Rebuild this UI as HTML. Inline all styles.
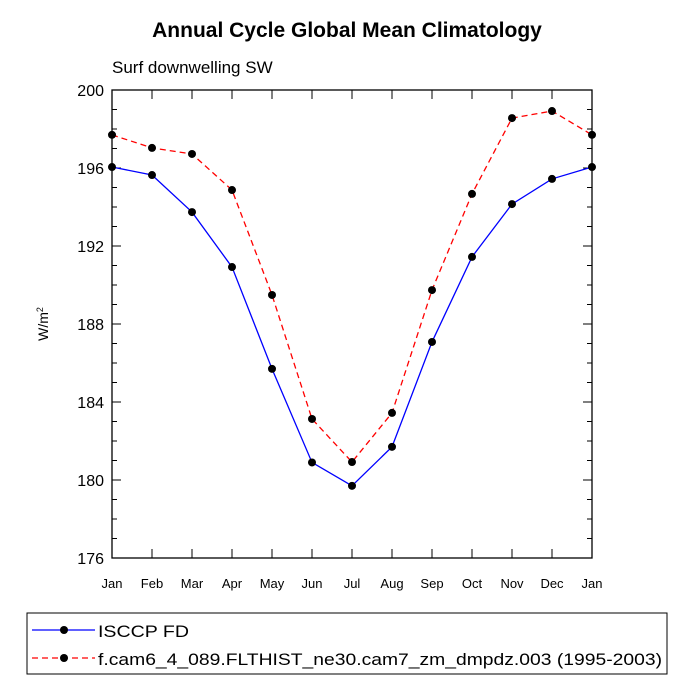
<!DOCTYPE html>
<html><head><meta charset="utf-8"><style>
body{margin:0;background:#fff;}
svg text{font-family:"Liberation Sans",Arial,sans-serif;}
</style></head><body>
<svg width="694" height="694" viewBox="0 0 694 694">
<text x="347" y="37" text-anchor="middle" font-size="21" font-weight="bold">Annual Cycle Global Mean Climatology</text>
<text x="112" y="73" font-size="17">Surf downwelling SW</text>
<text transform="translate(48,324) rotate(-90)" text-anchor="middle" font-size="14">W/m<tspan dy="-5" font-size="9">2</tspan></text>
<g id="axes"></g>
<g id="series"></g>
<rect x="27" y="613" width="640" height="61" fill="none" stroke="#000" stroke-width="1"/>
<g>
<line x1="32" y1="630" x2="95" y2="630" stroke="#0000ff" stroke-width="1.3"/>
<circle cx="64" cy="630" r="4" fill="#000"/>
<text x="98" y="637" font-size="17" textLength="91" lengthAdjust="spacingAndGlyphs">ISCCP FD</text></g>
<g>
<line x1="32" y1="658" x2="95" y2="658" stroke="#ff0000" stroke-width="1.3" stroke-dasharray="6,4"/>
<circle cx="64" cy="658" r="4" fill="#000"/>
<text x="98" y="665" font-size="17" textLength="564" lengthAdjust="spacingAndGlyphs">f.cam6_4_089.FLTHIST_ne30.cam7_zm_dmpdz.003 (1995-2003)</text></g>
</svg>
<script>
const months=["Jan","Feb","Mar","Apr","May","Jun","Jul","Aug","Sep","Oct","Nov","Dec","Jan"];
const obsValues=[196.05,195.64,193.74,190.92,185.7,180.9,179.7,181.7,187.08,191.44,194.15,195.44,196.05];
const modelValues=[197.7,197.03,196.72,194.87,189.49,183.13,180.92,183.44,189.74,194.67,198.56,198.92,197.7];
const yTicks=[176,180,184,188,192,196,200];
const X0=112,X1=592,Y0=558,Y1=90,YMIN=176,YMAX=200;
const xs=i=>X0+(X1-X0)*i/(months.length-1);
const ys=v=>Y0-(v-YMIN)/(YMAX-YMIN)*(Y0-Y1);
const NS="http://www.w3.org/2000/svg";
function mk(t,a,p){const e=document.createElementNS(NS,t);for(const k in a)e.setAttribute(k,a[k]);p.appendChild(e);return e;}
const ax=document.getElementById('axes');
const frame=mk('rect',{x:X0,y:Y1,width:X1-X0,height:Y0-Y1,fill:'none',stroke:'#000','stroke-width':1.3},ax);


for(let v=YMIN;v<=YMAX;v++){const y=ys(v);const L=(v%4===0)?9:5;
mk('line',{x1:X0,y1:y,x2:X0+L,y2:y,stroke:'#000'},ax);mk('line',{x1:X1,y1:y,x2:X1-L,y2:y,stroke:'#000'},ax);}
yTicks.forEach(v=>{const t=mk('text',{x:X0-8,y:ys(v)+6,'text-anchor':'end','font-size':16},ax);t.textContent=v;

});
months.forEach((m,i)=>{const x=xs(i);
mk('line',{x1:x,y1:Y0,x2:x,y2:Y0-9,stroke:'#000'},ax);mk('line',{x1:x,y1:Y1,x2:x,y2:Y1+9,stroke:'#000'},ax);
const t=mk('text',{x:x,y:Y0+30,'text-anchor':'middle','font-size':13},ax);t.textContent=m;

});
const sg=document.getElementById('series');
function draw(vals,color,dash,name){
const g=mk('g',{},sg);


const a={points:vals.map((v,i)=>xs(i)+','+ys(v)).join(' '),fill:'none',stroke:color,'stroke-width':1.3};
if(dash)a['stroke-dasharray']=dash;
mk('polyline',a,g);
vals.forEach((v,i)=>{const c=mk('circle',{cx:xs(i),cy:ys(v),r:4,fill:'#000'},g);

});}
draw(modelValues,'#ff0000','6,4','model-series');
draw(obsValues,'#0000ff',null,'isccp-series');
</script>
</body></html>
